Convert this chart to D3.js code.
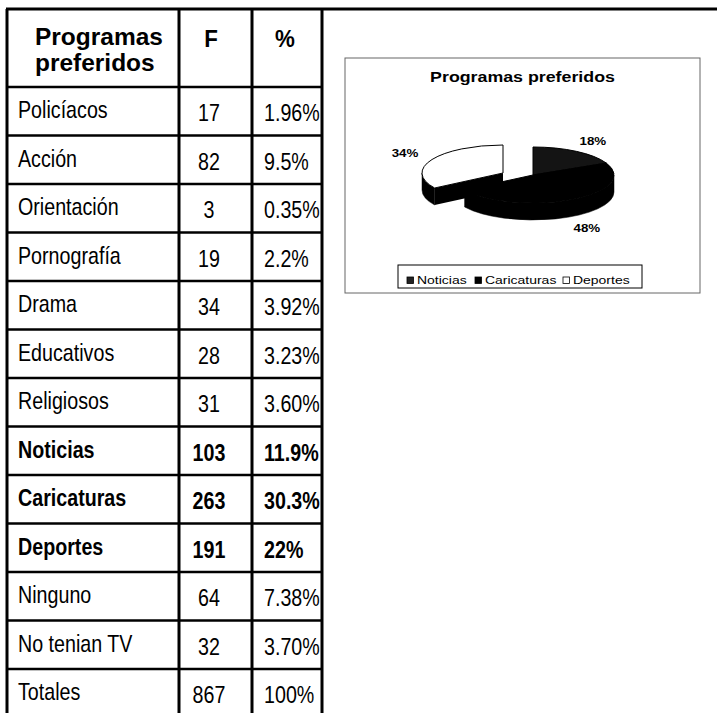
<!DOCTYPE html>
<html lang="es">
<head>
<meta charset="UTF-8">
<title>Programas preferidos</title>
<script src="https://d3js.org/d3.v7.min.js"></script>
<style>
  body { margin: 0; background: #fff; }
  .cell { font-family: "Liberation Sans", Arial, sans-serif; font-size: 24px; fill: #000; }
  .chart-text { font-family: "Liberation Sans", Arial, sans-serif; fill: #000; }
</style>
</head>
<body>
<svg id="chart" width="717" height="713"></svg>
<script>
// table data
const programas = ["Policíacos", "Acción", "Orientación", "Pornografía", "Drama", "Educativos",
  "Religiosos", "Noticias", "Caricaturas", "Deportes", "Ninguno", "No tenian TV", "Totales"];
const frecuencias = [17, 82, 3, 19, 34, 28, 31, 103, 263, 191, 64, 32, 867];
const porcentajes = ["1.96%", "9.5%", "0.35%", "2.2%", "3.92%", "3.23%", "3.60%",
  "11.9%", "30.3%", "22%", "7.38%", "3.70%", "100%"];
const destacados = ["Noticias", "Caricaturas", "Deportes"];
const cabecera = ["Programas", "preferidos"];

// pie data
const pieLabels = ["Noticias", "Caricaturas", "Deportes"];
const pieShares = [18, 48, 34];
const pieTitle = "Programas preferidos";

const svg = d3.select("#chart");

// ---------- table ----------
const colX = [7, 179, 252, 322];
const headTop = 9, headBottom = 87, rowH = 48.5;
const rowY = d3.scaleLinear().domain([0, programas.length]).range([headBottom, headBottom + rowH * programas.length]);
const narrow = 0.82; // condensed look of the table font

const table = svg.append("g");

function cellText(x, y, txt, anchor, weight, size, squeeze) {
  return table.append("text").attr("class", "cell")
    .attr("transform", `translate(${x},${y}) scale(${squeeze || narrow},1)`)
    .attr("text-anchor", anchor || "start")
    .attr("font-weight", weight || "normal")
    .attr("font-size", size || 24)
    .text(txt);
}

// top rule runs across the whole page
table.append("line")
  .attr("x1", colX[0] - 1).attr("x2", 717)
  .attr("y1", headTop).attr("y2", headTop)
  .attr("stroke", "#000").attr("stroke-width", 3);

// vertical rules
table.selectAll(".vline").data(colX).enter().append("line")
  .attr("x1", d => d).attr("x2", d => d)
  .attr("y1", headTop).attr("y2", rowY(programas.length))
  .attr("stroke", "#000").attr("stroke-width", 3);

// horizontal rules
table.selectAll(".hline").data(d3.range(programas.length + 1)).enter().append("line")
  .attr("x1", colX[0]).attr("x2", colX[3])
  .attr("y1", d => rowY(d)).attr("y2", d => rowY(d))
  .attr("stroke", "#000").attr("stroke-width", 2.5);

// header, two lines
cabecera.forEach((t, i) => cellText(35, 45 + i * 26, t, "start", "bold", 19, 1.02));
cellText(211, 47, "F", "middle", "bold", 21, 0.93);
cellText(285, 47, "%", "middle", "bold", 21, 0.93);

programas.forEach((name, i) => {
  const w = destacados.includes(name) ? "bold" : "normal";
  cellText(18, rowY(i) + 31, name, "start", w);
  cellText(209, rowY(i) + 34, frecuencias[i], "middle", w);
  cellText(264, rowY(i) + 34, porcentajes[i], "start", w);
});

// ---------- pie chart box ----------
const box = { x: 345, y: 58, w: 355, h: 235 };
const sx = 1.27; // the picture is stretched sideways

const chart = svg.append("g");
chart.append("rect")
  .attr("x", box.x).attr("y", box.y).attr("width", box.w).attr("height", box.h)
  .attr("fill", "#fff").attr("stroke", "#666").attr("stroke-width", 1);

function stretchedText(g, x, y, txt, size, weight, anchor) {
  return g.append("text").attr("class", "chart-text")
    .attr("transform", `translate(${x},${y}) scale(${sx},1)`)
    .attr("font-size", size).attr("font-weight", weight)
    .attr("text-anchor", anchor || "middle")
    .text(txt);
}

stretchedText(chart, box.x + box.w / 2, 82, pieTitle, 14, "bold");

// 3D pie
const cx = 533, cy = 175, rx = 81, ry = 28, depth = 17;
const explode = { Deportes: [-30, -2] };
const arcs = d3.pie().sort(null).startAngle(0).endAngle(2 * Math.PI)(pieShares);
const fills = ["#141414", "#000", "#fff"];

function pt(a, o, z) {
  return [cx + o[0] + rx * Math.sin(a), cy + o[1] - ry * Math.cos(a) + (z || 0)];
}
function ctr(o, z) { return [cx + o[0], cy + o[1] + (z || 0)]; }

function topPath(d, o) {
  const p0 = pt(d.startAngle, o), p1 = pt(d.endAngle, o), c = ctr(o);
  const large = d.endAngle - d.startAngle > Math.PI ? 1 : 0;
  return `M${c}L${p0}A${rx},${ry} 0 ${large} 1 ${p1}Z`;
}
function sidePath(d, o) {
  const s = Math.max(d.startAngle, Math.PI / 2), e = Math.min(d.endAngle, 3 * Math.PI / 2);
  if (s >= e) return null;
  const p0 = pt(s, o), p1 = pt(e, o), q1 = pt(e, o, depth), q0 = pt(s, o, depth);
  return `M${p0}A${rx},${ry} 0 0 1 ${p1}L${q1}A${rx},${ry} 0 0 0 ${q0}Z`;
}
function wallPath(a, o) {
  return `M${ctr(o)}L${pt(a, o)}L${pt(a, o, depth)}L${ctr(o, depth)}Z`;
}

const pieG = chart.append("g");
const slices = arcs.map((d, i) => ({ d, i, o: explode[pieLabels[i]] || [0, 0] }));

// walls and sides first
slices.forEach(s => {
  if (Math.sin(s.d.startAngle) < 0)
    pieG.append("path").attr("d", wallPath(s.d.startAngle, s.o)).attr("fill", "#000");
  if (Math.sin(s.d.endAngle) > 0)
    pieG.append("path").attr("d", wallPath(s.d.endAngle, s.o)).attr("fill", "#000");
});
slices.forEach(s => {
  const p = sidePath(s.d, s.o);
  if (p) pieG.append("path").attr("d", p).attr("fill", "#000").attr("stroke", "#000").attr("stroke-width", 0.5);
});
// top faces
slices.forEach(s => {
  pieG.append("path").attr("d", topPath(s.d, s.o))
    .attr("fill", fills[s.i]).attr("stroke", "#000").attr("stroke-width", 1);
});

// percentage labels
slices.forEach(s => {
  const m = (s.d.startAngle + s.d.endAngle) / 2;
  const front = -Math.cos(m) > 0;
  const x = cx + s.o[0] + rx * 1.38 * Math.sin(m);
  const y = cy + s.o[1] - ry * 1.45 * Math.cos(m) + (front ? depth : 0) + 4;
  stretchedText(chart, x, y, pieShares[s.i] + "%", 10.5, "bold");
});

// legend
const leg = { x: 398, y: 265, w: 244, h: 23 };
chart.append("rect").attr("x", leg.x).attr("y", leg.y).attr("width", leg.w).attr("height", leg.h)
  .attr("fill", "#fff").attr("stroke", "#000").attr("stroke-width", 1);
const legX = d3.scaleOrdinal().domain(pieLabels).range([407, 475, 563]);
const legFill = d3.scaleOrdinal().domain(pieLabels).range(["#222", "#000", "#fff"]);
pieLabels.forEach(name => {
  chart.append("rect").attr("x", legX(name)).attr("y", 277).attr("width", 6.5).attr("height", 6.5)
    .attr("fill", legFill(name)).attr("stroke", "#000").attr("stroke-width", 0.8);
  stretchedText(chart, legX(name) + 10, 284, name, 11, "normal", "start");
});
</script>
</body>
</html>
